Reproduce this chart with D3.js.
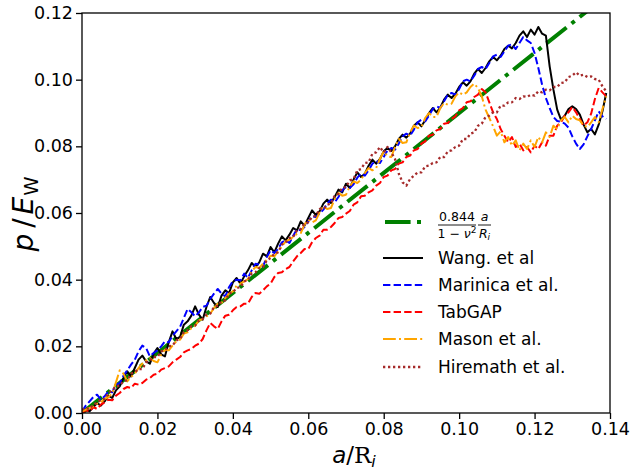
<!DOCTYPE html>
<html>
<head>
<meta charset="utf-8">
<script src="https://cdn.jsdelivr.net/npm/d3@7/dist/d3.min.js"></script>
<style>
  body { margin: 0; background: #fff; }
  text { font-family: "DejaVu Sans", sans-serif; fill: #000; }
</style>
</head>
<body>
<svg id="chart" width="641" height="470"></svg>
<script>
// Axis ticks
const xTicks = [0.00, 0.02, 0.04, 0.06, 0.08, 0.10, 0.12, 0.14];
const yTicks = [0.00, 0.02, 0.04, 0.06, 0.08, 0.10, 0.12];

// Analytical relation p/E = 0.844/(1-nu^2) * a/R_i
const coefK = 0.844;
const poisson = 0.25;
const fitRange = [0.0, 0.14];

// Crack size a/R_i shared by all simulated curves
const aValues = [
0.000,0.001,0.002,0.003,0.004,0.005,0.006,0.007,0.008,0.009,
0.010,0.011,0.012,0.013,0.014,0.015,0.016,0.017,0.018,0.019,
0.020,0.021,0.022,0.023,0.024,0.025,0.026,0.027,0.028,0.029,
0.030,0.031,0.032,0.033,0.034,0.035,0.036,0.037,0.038,0.039,
0.040,0.041,0.042,0.043,0.044,0.045,0.046,0.047,0.048,0.049,
0.050,0.051,0.052,0.053,0.054,0.055,0.056,0.057,0.058,0.059,
0.060,0.061,0.062,0.063,0.064,0.065,0.066,0.067,0.068,0.069,
0.070,0.071,0.072,0.073,0.074,0.075,0.076,0.077,0.078,0.079,
0.080,0.081,0.082,0.083,0.084,0.085,0.086,0.087,0.088,0.089,
0.090,0.091,0.092,0.093,0.094,0.095,0.096,0.097,0.098,0.099,
0.100,0.101,0.102,0.103,0.104,0.105,0.106,0.107,0.108,0.109,
0.110,0.111,0.112,0.113,0.114,0.115,0.116,0.117,0.118,0.119,
0.120,0.121,0.122,0.123,0.124,0.125,0.126,0.127,0.128,0.129,
0.130,0.131,0.132,0.133,0.134,0.135,0.136,0.137,0.138,0.139];

// Pressure p/E_W for each potential
const wangP = [
0.0000,0.0010,0.0005,0.0018,0.0030,0.0022,0.0035,0.0052,0.0045,0.0068,
0.0080,0.0105,0.0125,0.0110,0.0135,0.0160,0.0172,0.0155,0.0148,0.0178,
0.0195,0.0176,0.0170,0.0212,0.0245,0.0222,0.0228,0.0265,0.0275,0.0292,
0.0320,0.0295,0.0280,0.0318,0.0348,0.0330,0.0318,0.0352,0.0368,0.0360,
0.0392,0.0405,0.0388,0.0410,0.0428,0.0450,0.0438,0.0452,0.0478,0.0470,
0.0498,0.0482,0.0508,0.0530,0.0518,0.0535,0.0555,0.0548,0.0575,0.0562,
0.0585,0.0608,0.0594,0.0605,0.0628,0.0640,0.0630,0.0648,0.0670,0.0662,
0.0688,0.0675,0.0700,0.0722,0.0708,0.0718,0.0742,0.0760,0.0748,0.0762,
0.0785,0.0795,0.0786,0.0800,0.0822,0.0835,0.0826,0.0838,0.0862,0.0872,
0.0860,0.0878,0.0900,0.0915,0.0902,0.0916,0.0940,0.0955,0.0945,0.0958,
0.0978,0.0992,0.0982,0.0995,0.1018,0.1032,0.1020,0.1035,0.1055,0.1068,
0.1058,0.1072,0.1092,0.1102,0.1094,0.1110,0.1132,0.1145,0.1128,0.1150,
0.1135,0.1158,0.1138,0.1132,0.1040,0.0970,0.0910,0.0880,0.0892,0.0912,
0.0920,0.0912,0.0895,0.0865,0.0842,0.0852,0.0836,0.0865,0.0905,0.0960];

const marinicaP = [
0.0005,0.0022,0.0035,0.0048,0.0055,0.0040,0.0050,0.0065,0.0062,0.0085,
0.0090,0.0112,0.0128,0.0145,0.0160,0.0185,0.0202,0.0195,0.0170,0.0180,
0.0188,0.0200,0.0215,0.0212,0.0232,0.0245,0.0258,0.0285,0.0312,0.0302,
0.0290,0.0302,0.0318,0.0322,0.0342,0.0358,0.0372,0.0358,0.0350,0.0378,
0.0395,0.0400,0.0398,0.0418,0.0405,0.0428,0.0448,0.0445,0.0440,0.0468,
0.0488,0.0480,0.0492,0.0512,0.0518,0.0510,0.0532,0.0552,0.0548,0.0558,
0.0575,0.0590,0.0588,0.0598,0.0610,0.0628,0.0640,0.0632,0.0648,0.0668,
0.0678,0.0675,0.0686,0.0706,0.0718,0.0712,0.0728,0.0748,0.0756,0.0750,
0.0768,0.0788,0.0795,0.0790,0.0808,0.0830,0.0838,0.0832,0.0850,0.0872,
0.0880,0.0875,0.0892,0.0912,0.0920,0.0915,0.0935,0.0955,0.0960,0.0955,
0.0972,0.0995,0.1000,0.0995,0.1012,0.1032,0.1038,0.1032,0.1050,0.1070,
0.1075,0.1068,0.1085,0.1102,0.1106,0.1092,0.1110,0.1128,0.1118,0.1110,
0.1080,0.1035,0.0985,0.0945,0.0915,0.0888,0.0876,0.0874,0.0868,0.0856,
0.0830,0.0808,0.0792,0.0806,0.0830,0.0852,0.0878,0.0905,0.0890,0.0882];

const tabgapP = [
0.0000,0.0008,0.0005,0.0018,0.0012,0.0025,0.0032,0.0040,0.0038,0.0052,
0.0060,0.0072,0.0078,0.0075,0.0088,0.0085,0.0090,0.0100,0.0105,0.0115,
0.0118,0.0130,0.0135,0.0140,0.0152,0.0160,0.0168,0.0182,0.0188,0.0192,
0.0202,0.0208,0.0222,0.0248,0.0270,0.0260,0.0252,0.0275,0.0292,0.0295,
0.0308,0.0318,0.0320,0.0328,0.0328,0.0348,0.0360,0.0358,0.0368,0.0380,
0.0388,0.0408,0.0420,0.0422,0.0432,0.0438,0.0455,0.0470,0.0480,0.0492,
0.0492,0.0512,0.0525,0.0532,0.0550,0.0550,0.0558,0.0570,0.0585,0.0588,
0.0598,0.0606,0.0625,0.0632,0.0650,0.0652,0.0662,0.0668,0.0682,0.0690,
0.0708,0.0712,0.0728,0.0732,0.0748,0.0752,0.0768,0.0772,0.0788,0.0792,
0.0808,0.0815,0.0832,0.0835,0.0848,0.0852,0.0868,0.0870,0.0882,0.0890,
0.0908,0.0915,0.0932,0.0935,0.0948,0.0955,0.0972,0.0962,0.0932,0.0902,
0.0882,0.0852,0.0832,0.0812,0.0828,0.0798,0.0808,0.0788,0.0798,0.0782,
0.0802,0.0792,0.0812,0.0802,0.0832,0.0832,0.0862,0.0872,0.0892,0.0902,
0.0918,0.0902,0.0882,0.0862,0.0872,0.0898,0.0942,0.0975,0.0962,0.0950];

const masonP = [
0.0005,0.0010,0.0015,0.0020,0.0028,0.0032,0.0042,0.0048,0.0058,0.0092,
0.0128,0.0118,0.0095,0.0108,0.0118,0.0135,0.0148,0.0158,0.0165,0.0156,
0.0152,0.0175,0.0190,0.0188,0.0202,0.0215,0.0220,0.0238,0.0242,0.0255,
0.0262,0.0278,0.0282,0.0290,0.0298,0.0315,0.0328,0.0330,0.0345,0.0358,
0.0365,0.0382,0.0388,0.0395,0.0402,0.0425,0.0438,0.0435,0.0448,0.0460,
0.0472,0.0470,0.0485,0.0500,0.0515,0.0520,0.0528,0.0538,0.0540,0.0565,
0.0580,0.0572,0.0578,0.0602,0.0620,0.0612,0.0615,0.0642,0.0660,0.0652,
0.0655,0.0680,0.0695,0.0690,0.0700,0.0720,0.0735,0.0728,0.0735,0.0762,
0.0785,0.0770,0.0768,0.0798,0.0822,0.0810,0.0812,0.0842,0.0862,0.0855,
0.0858,0.0885,0.0900,0.0888,0.0888,0.0915,0.0930,0.0925,0.0928,0.0950,
0.0962,0.0955,0.0962,0.0978,0.0988,0.0975,0.0950,0.0910,0.0885,0.0860,
0.0832,0.0845,0.0812,0.0828,0.0802,0.0818,0.0788,0.0808,0.0792,0.0818,
0.0798,0.0828,0.0812,0.0842,0.0828,0.0862,0.0852,0.0878,0.0888,0.0872,
0.0892,0.0882,0.0878,0.0862,0.0858,0.0872,0.0888,0.0872,0.0912,0.0950];

const hiremathP = [
0.0010,0.0015,0.0012,0.0025,0.0030,0.0040,0.0042,0.0060,0.0068,0.0080,
0.0082,0.0095,0.0098,0.0118,0.0122,0.0132,0.0132,0.0152,0.0158,0.0168,
0.0168,0.0185,0.0188,0.0200,0.0202,0.0218,0.0222,0.0242,0.0248,0.0260,
0.0262,0.0278,0.0282,0.0295,0.0298,0.0318,0.0322,0.0335,0.0338,0.0358,
0.0362,0.0375,0.0378,0.0395,0.0398,0.0418,0.0422,0.0435,0.0438,0.0458,
0.0465,0.0478,0.0482,0.0505,0.0512,0.0525,0.0528,0.0548,0.0552,0.0568,
0.0572,0.0588,0.0592,0.0612,0.0612,0.0625,0.0628,0.0652,0.0658,0.0675,
0.0678,0.0698,0.0702,0.0728,0.0732,0.0750,0.0752,0.0778,0.0782,0.0798,
0.0782,0.0798,0.0782,0.0762,0.0718,0.0692,0.0682,0.0702,0.0712,0.0722,
0.0722,0.0740,0.0742,0.0750,0.0752,0.0768,0.0768,0.0785,0.0788,0.0798,
0.0802,0.0822,0.0822,0.0838,0.0842,0.0862,0.0868,0.0888,0.0892,0.0902,
0.0902,0.0922,0.0922,0.0932,0.0932,0.0945,0.0942,0.0950,0.0948,0.0955,
0.0952,0.0965,0.0962,0.0970,0.0968,0.0978,0.0978,0.0990,0.0992,0.1008,
0.1012,0.1022,0.1012,0.1015,0.1008,0.1010,0.1002,0.1000,0.0980,0.0965];

const seriesNames = ["Wang. et al", "Marinica et al.", "TabGAP", "Mason et al.", "Hiremath et al."];
const seriesValues = [wangP, marinicaP, tabgapP, masonP, hiremathP];
const seriesColors = ["#000000", "#0000ff", "#ff0000", "#ffa500", "#a52a2a"];
const seriesDash = [null, "7.4,3.2", "7.4,3.2", "12.8,3.2,2,3.2", "2.3,2.7"];
const seriesWidth = [2, 2, 2, 2, 2.3];

const svg = d3.select("#chart");
const plot = { left: 82, right: 610, top: 13, bottom: 413 };

const x = d3.scaleLinear().domain([0, 0.14]).range([plot.left, plot.right]);
const y = d3.scaleLinear().domain([0, 0.12]).range([plot.bottom, plot.top]);

svg.append("defs").append("clipPath").attr("id", "plotClip")
  .append("rect")
  .attr("x", plot.left).attr("y", plot.top)
  .attr("width", plot.right - plot.left).attr("height", plot.bottom - plot.top);

const lines = svg.append("g").attr("clip-path", "url(#plotClip)");
const line = d3.line().x(d => x(d[0])).y(d => y(d[1]));

// analytical line
const slope = coefK / (1 - poisson * poisson);
const fitPts = fitRange.map(a => [a, slope * a]);
lines.append("path").datum(fitPts)
  .attr("d", line)
  .attr("fill", "none")
  .attr("stroke", "#008000")
  .attr("stroke-width", 4)
  .attr("stroke-dasharray", "25.6,6.4,4,6.4");

seriesValues.forEach((vals, i) => {
  const pts = aValues.map((a, k) => [a, vals[k]]);
  lines.append("path").datum(pts)
    .attr("d", line)
    .attr("fill", "none")
    .attr("stroke", seriesColors[i])
    .attr("stroke-width", seriesWidth[i])
    .attr("stroke-linejoin", "round")
    .attr("stroke-dasharray", seriesDash[i]);
});

// axes
const fmt = d3.format(".2f");
const xAxis = svg.append("g").attr("transform", `translate(0,${plot.bottom})`)
  .call(d3.axisBottom(x).tickValues(xTicks).tickFormat(fmt).tickSizeInner(6).tickSizeOuter(0).tickPadding(4));
const yAxis = svg.append("g").attr("transform", `translate(${plot.left},0)`)
  .call(d3.axisLeft(y).tickValues(yTicks).tickFormat(fmt).tickSizeInner(6).tickSizeOuter(0).tickPadding(3));
[xAxis, yAxis].forEach(g => {
  g.select(".domain").remove();
  g.selectAll(".tick line").attr("stroke", "#000").attr("stroke-width", 1.3);
  g.selectAll(".tick text").attr("font-family", "DejaVu Sans").attr("font-size", 17.5).attr("fill", "#000");
});

// frame
svg.append("rect")
  .attr("x", plot.left).attr("y", plot.top)
  .attr("width", plot.right - plot.left).attr("height", plot.bottom - plot.top)
  .attr("fill", "none").attr("stroke", "#000").attr("stroke-width", 1.3);

// axis labels
const xl = svg.append("text").attr("x", 354).attr("y", 463).attr("text-anchor", "middle").attr("font-size", 23);
xl.append("tspan").attr("font-style", "italic").text("a");
xl.append("tspan").text("/");
xl.append("tspan").attr("font-family", "DejaVu Serif").text("R");
xl.append("tspan").attr("font-style", "italic").attr("font-size", 16).attr("dy", 4).text("i");

const yl = svg.append("text").attr("transform", "translate(33,214) rotate(-90)")
  .attr("text-anchor", "middle").attr("font-size", 28);
yl.append("tspan").attr("font-style", "italic").text("p");
yl.append("tspan").attr("dx", 6).text("/");
yl.append("tspan").attr("dx", 4).attr("font-style", "italic").text("E");
yl.append("tspan").attr("dx", 1).attr("font-size", 19.5).attr("dy", 5).text("W");

// legend
const legend = svg.append("g");
const hx0 = 383, hx1 = 423, tx = 438;
const rowY = [222, 258, 285, 312, 339, 367];

legend.append("line").attr("x1", hx0 + 2).attr("x2", hx1).attr("y1", rowY[0]).attr("y2", rowY[0])
  .attr("stroke", "#008000").attr("stroke-width", 4).attr("stroke-dasharray", "25.6,6.4,4,6.4");

// formula label: 0.844/(1-nu^2) * a/R_i
const fs = 12.5;
const frac1c = 457, frac2c = 484.5;
legend.append("text").attr("x", frac1c).attr("y", 221).attr("text-anchor", "middle").attr("font-size", fs).text("0.844");
legend.append("line").attr("x1", 438).attr("x2", 476).attr("y1", 225).attr("y2", 225).attr("stroke", "#000").attr("stroke-width", 0.9);
const den1 = legend.append("text").attr("x", frac1c).attr("y", 238).attr("text-anchor", "middle").attr("font-size", fs);
den1.append("tspan").text("1 \u2212 ");
den1.append("tspan").attr("font-style", "italic").text("\u03bd");
den1.append("tspan").attr("font-size", 9).attr("dy", -5).text("2");
legend.append("text").attr("x", frac2c).attr("y", 221).attr("text-anchor", "middle").attr("font-size", fs).attr("font-style", "italic").text("a");
legend.append("line").attr("x1", 478).attr("x2", 491).attr("y1", 225).attr("y2", 225).attr("stroke", "#000").attr("stroke-width", 0.9);
const den2 = legend.append("text").attr("x", frac2c).attr("y", 238).attr("text-anchor", "middle").attr("font-size", fs);
den2.append("tspan").attr("font-style", "italic").text("R");
den2.append("tspan").attr("font-style", "italic").attr("font-size", 9).attr("dy", 2).text("i");

seriesNames.forEach((name, i) => {
  const yy = rowY[i + 1];
  legend.append("line").attr("x1", hx0).attr("x2", hx1).attr("y1", yy).attr("y2", yy)
    .attr("stroke", seriesColors[i]).attr("stroke-width", seriesWidth[i])
    .attr("stroke-dasharray", seriesDash[i]);
  legend.append("text").attr("x", tx).attr("y", yy + 6).attr("font-size", 17).text(name);
});
</script>
</body>
</html>
